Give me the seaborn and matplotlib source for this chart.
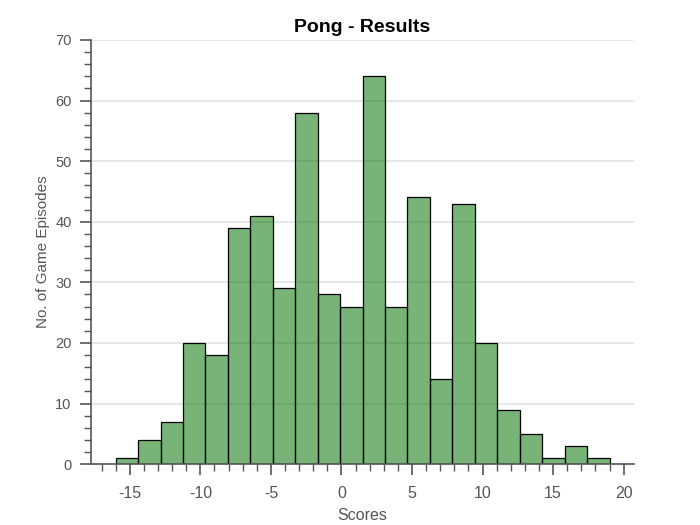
import matplotlib
matplotlib.use("Agg")
import matplotlib.pyplot as plt
import numpy as np
import seaborn as sns
from matplotlib.ticker import MultipleLocator

# Histogram of Pong episode scores (22 bins between -16 and 19)
score_min, score_max = -16, 19
n_bins = 22
counts = [1, 4, 7, 20, 18, 39, 41, 29, 58, 28, 26, 64, 26, 44, 14, 43, 20, 9, 5, 1, 3, 1]

edges = np.linspace(score_min, score_max, n_bins + 1)
centers = (edges[:-1] + edges[1:]) / 2

sns.set_style("ticks")
plt.rcParams['font.family'] = ['Liberation Sans', 'DejaVu Sans']
grey = "#555555"
plt.rcParams.update({
    "text.color": grey,
    "axes.labelcolor": grey,
    "xtick.color": grey,
    "ytick.color": grey,
    "axes.edgecolor": grey,
    "axes.unicode_minus": False,
})

fig, ax = plt.subplots(figsize=(7, 5.25), dpi=100)
fig.subplots_adjust(left=0.13, right=0.906, bottom=0.116, top=0.924)

ax.yaxis.grid(True, color="#e3e3e3", linewidth=1.2)
ax.set_axisbelow(True)

sns.histplot(x=centers, weights=counts, bins=n_bins, binrange=(score_min, score_max),
             color="#007000", alpha=0.53, edgecolor="black", linewidth=0.9, ax=ax)

ax.set_ylim(0, 70)
ax.margins(x=0.05)
ax.xaxis.set_major_locator(MultipleLocator(5))
ax.xaxis.set_minor_locator(MultipleLocator(1))
ax.yaxis.set_major_locator(MultipleLocator(10))
ax.yaxis.set_minor_locator(MultipleLocator(2))
ax.tick_params(which="major", length=8, width=1.2, pad=6)
ax.tick_params(which="minor", length=5, width=1.0)
ax.tick_params(axis="x", which="major", labelsize=11.5, pad=7.5)
ax.tick_params(axis="y", which="major", labelsize=10.5)

sns.despine(ax=ax)
ax.spines["left"].set_linewidth(1.2)
ax.spines["bottom"].set_linewidth(1.2)

ax.set_xlabel("Scores", fontsize=11.5, labelpad=5)
ax.set_ylabel("No. of Game Episodes", fontsize=11)
ax.set_title("Pong - Results", fontsize=14, fontweight="bold", color="black")

fig.savefig("out.png", dpi=100)
